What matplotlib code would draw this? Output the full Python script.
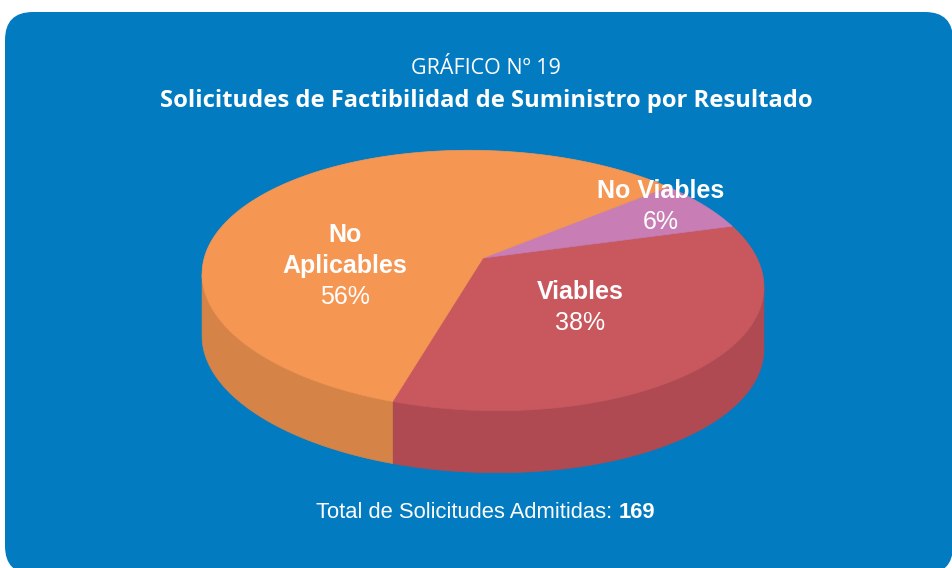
import numpy as np
import matplotlib
matplotlib.use("Agg")
import matplotlib.pyplot as plt
from matplotlib.patches import FancyBboxPatch, Polygon

# data
categories = ["Viables", "No Viables", "No Aplicables"]
counts = [64, 10, 95]
pct_labels = ["38%", "6%", "56%"]
label_lines = [["Viables"], ["No Viables"], ["No", "Aplicables"]]
total = 169

top_colors = ["#C9575E", "#C87DB4", "#F69653"]
side_colors = ["#AF4A52", "#A8659A", "#D68348"]
blue = "#037BC1"

# pie geometry in pixels (3d look)
CX, CY = 483, 280.5
A, B = 281, 130
PHI = np.radians(1.7)
VX, VY = 483, 258
DEPTH = 62
START = 252


def proj(theta, dz=0.0):
    t = np.radians(theta)
    u = A * np.cos(t)
    v = B * np.sin(t)
    x = CX + u * np.cos(PHI) + v * np.sin(PHI)
    y = CY + u * np.sin(PHI) - v * np.cos(PHI) + dz
    return x, y


fig = plt.figure(figsize=(9.52, 5.68), dpi=100)
ax = fig.add_axes([0, 0, 1, 1])
ax.set_xlim(0, 952)
ax.set_ylim(568, 0)
ax.axis("off")

box = FancyBboxPatch((5 + 28, 12 + 28), 948 - 56, 562 - 56,
                     boxstyle="round,pad=28", fc=blue, ec="none", zorder=0)
ax.add_patch(box)

fracs = np.array(counts) / sum(counts)
edges = START + np.concatenate([[0], np.cumsum(fracs) * 360])

# visible side windows
vis0 = np.degrees(np.arctan2(B * np.sin(PHI), A * np.cos(PHI))) + 180
for i in range(len(counts)):
    t1, t2 = edges[i], edges[i + 1]
    for k in range(-1, 3):
        w1, w2 = vis0 + 360 * k, vis0 + 180 + 360 * k
        a, b = max(t1, w1), min(t2, w2)
        if b <= a:
            continue
        th = np.linspace(a, b, 120)
        xt, yt = proj(th)
        xb, yb = proj(th[::-1], DEPTH)
        pts = np.column_stack([np.concatenate([xt, xb]), np.concatenate([yt, yb])])
        ax.add_patch(Polygon(pts, closed=True, fc=side_colors[i], ec=side_colors[i], lw=0.5, zorder=2))

for i in range(len(counts)):
    th = np.linspace(edges[i], edges[i + 1], 200)
    xe, ye = proj(th)
    pts = np.column_stack([np.concatenate([[VX], xe]), np.concatenate([[VY], ye])])
    ax.add_patch(Polygon(pts, closed=True, fc=top_colors[i], ec=top_colors[i], lw=0.5, zorder=3))

# labels
label_pos = [(580, 292), (661, 191), (345, 235)]
lab_font = ["Liberation Sans", "DejaVu Sans"]
for i in range(len(counts)):
    x, y = label_pos[i]
    for line in label_lines[i]:
        ax.text(x, y, line, ha="center", va="center", color="white", fontsize=18,
                fontweight="bold", family=lab_font, zorder=5)
        y += 31
    ax.text(x, y, pct_labels[i], ha="center", va="center", color="white", fontsize=18,
            family=lab_font, zorder=5)

# titles
ax.text(486, 69, "GRÁFICO Nº 19", ha="center", va="center", color="white", fontsize=15.5,
        family=["Open Sans", "DejaVu Sans"])
ax.text(486, 101, "Solicitudes de Factibilidad de Suministro por Resultado", ha="center", va="center",
        color="white", fontsize=17.1, fontweight="bold", family=["Open Sans", "DejaVu Sans"])

t = ax.text(316, 512, "Total de Solicitudes Admitidas: ", ha="left", va="center", color="white",
            fontsize=15.8, family=lab_font)
fig.canvas.draw()
bb = t.get_window_extent()
x_end = ax.transData.inverted().transform((bb.x1, bb.y0))[0]
ax.text(x_end, 512, str(total), ha="left", va="center", color="white", fontsize=15.8,
        fontweight="bold", family=lab_font)

fig.savefig("out.png", dpi=100, facecolor="white")
